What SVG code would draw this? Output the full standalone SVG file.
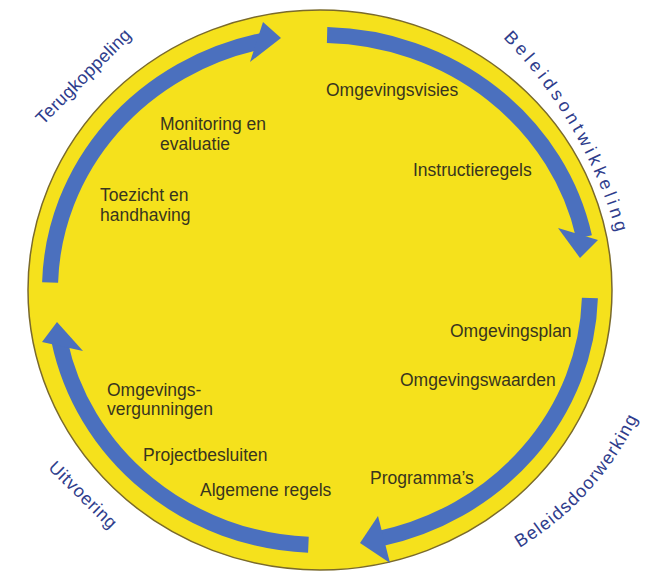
<svg xmlns="http://www.w3.org/2000/svg" width="646" height="573" viewBox="0 0 646 573">
  <style>
    .bg { fill: #ffffff; }
    .disc { fill: #F5E11C; stroke: #7a6a2c; stroke-width: 1.5; }
    .shaft { fill: none; stroke: #4B70BE; stroke-width: 16; stroke-linecap: butt; }
    .head { fill: #4B70BE; }
    .item { font-family: "Liberation Sans", Arial, sans-serif; font-size: 17.5px; fill: #38351f; }
    .stage { font-family: "Liberation Sans", Arial, sans-serif; font-size: 18px; fill: #2f3d8c; }
  </style>
  <defs>
    <path id="p-teru" d="M 17.7,150.7 L 157.7,10.7"/>
    <path id="p-belo" d="M 447.7,-10.9 A 467 467 0 0 1 631.8,308.5"/>
    <path id="p-beld" d="M 477.1,569.1 A 306 306 0 0 0 655.2,373.0"/>
    <path id="p-uitv" d="M 7.6,429.2 L 150.4,569.4"/>
  </defs>
  <rect class="bg" x="0" y="0" width="646" height="573"/>
  <g id="cycle">
    <ellipse class="disc" cx="320" cy="290" rx="292" ry="280"/>
  </g>
  <g id="connectors">
    <g id="arrow-terugkoppeling">
      <path class="shaft" d="M 50.1,282.4 A 270 255 0 0 1 261.6,41.0"/>
      <polygon class="head" points="263,22 281,38 250,62"/>
    </g>
    <g id="arrow-beleidsontwikkeling">
      <path class="shaft" d="M 327.1,35.1 A 270 255 0 0 1 584.1,237.0"/>
      <polygon class="head" points="558,228 598,240 580,258"/>
    </g>
    <g id="arrow-beleidsdoorwerking">
      <path class="shaft" d="M 589.9,298.0 A 270 255 0 0 1 378.4,539.0"/>
      <polygon class="head" points="378,516 360,543 390,563"/>
    </g>
    <g id="arrow-uitvoering">
      <path class="shaft" d="M 308.4,544.8 A 266 255 0 0 1 59.4,340.8"/>
      <polygon class="head" points="42,342 57,322 83,351"/>
    </g>
  </g>
  <g id="stage-terugkoppeling">
    <text class="stage" letter-spacing="0.3"><textPath href="#p-teru" startOffset="50%" text-anchor="middle">Terugkoppeling</textPath></text>
  </g>
  <g id="stage-beleidsontwikkeling">
    <text class="stage" letter-spacing="3.9"><textPath href="#p-belo" startOffset="50%" text-anchor="middle">Beleidsontwikkeling</textPath></text>
  </g>
  <g id="stage-beleidsdoorwerking">
    <text class="stage" letter-spacing="1.2"><textPath href="#p-beld" startOffset="50%" text-anchor="middle">Beleidsdoorwerking</textPath></text>
  </g>
  <g id="stage-uitvoering">
    <text class="stage" letter-spacing="0.7"><textPath href="#p-uitv" startOffset="50%" text-anchor="middle">Uitvoering</textPath></text>
  </g>
  <g id="item-omgevingsvisies"><text class="item" x="326" y="96">Omgevingsvisies</text></g>
  <g id="item-instructieregels"><text class="item" x="413" y="176">Instructieregels</text></g>
  <g id="item-omgevingsplan"><text class="item" x="450" y="337">Omgevingsplan</text></g>
  <g id="item-omgevingswaarden"><text class="item" x="400" y="386">Omgevingswaarden</text></g>
  <g id="item-programmas"><text class="item" x="370" y="484">Programma’s</text></g>
  <g id="item-algemene-regels"><text class="item" x="200" y="496">Algemene regels</text></g>
  <g id="item-projectbesluiten"><text class="item" x="143" y="461">Projectbesluiten</text></g>
  <g id="item-omgevingsvergunningen"><text class="item" x="107" y="396">Omgevings-<tspan x="107" y="415">vergunningen</tspan></text></g>
  <g id="item-toezicht"><text class="item" x="100" y="201">Toezicht en<tspan x="100" y="221">handhaving</tspan></text></g>
  <g id="item-monitoring"><text class="item" x="160" y="129.5">Monitoring en<tspan x="160" y="149.5">evaluatie</tspan></text></g>
</svg>
